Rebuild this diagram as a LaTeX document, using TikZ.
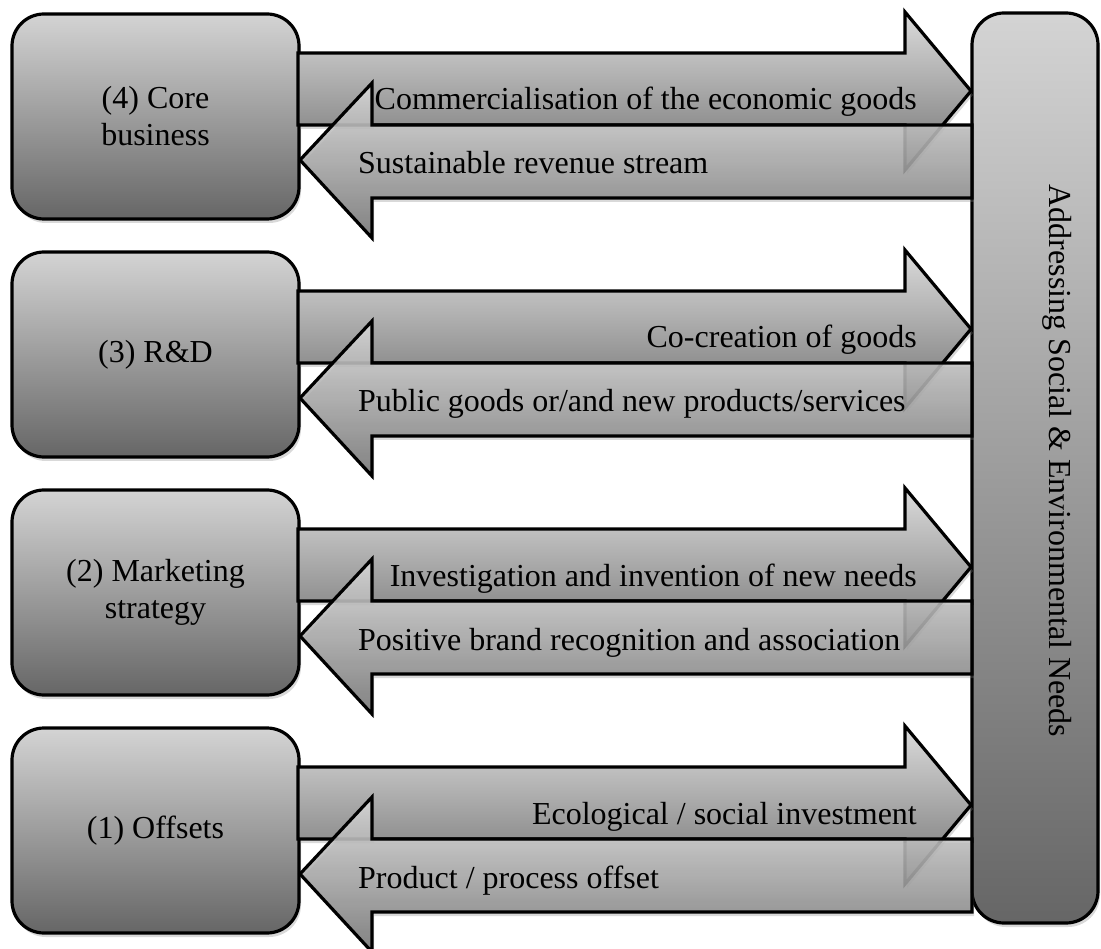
\documentclass[tikz,border=0pt]{standalone}
\usepackage{fontspec}
\setmainfont{Liberation Serif}
\usetikzlibrary{shadows}
\definecolor{boxtop}{gray}{0.83}
\definecolor{boxbottom}{gray}{0.40}
\definecolor{arrowtop}{gray}{0.86}
\definecolor{arrowbottom}{gray}{0.45}
\tikzset{
  % Two box styles: the stages on the left, the needs on the right
  stage box/.style={rectangle,draw,line width=3.2pt,rounded corners=32pt,
    minimum width=287pt,minimum height=205pt,align=center,
    top color=boxtop,bottom color=boxbottom,
    drop shadow={shadow xshift=2pt,shadow yshift=-4pt,opacity=0.3}},
  needs box/.style={stage box,minimum width=126pt,minimum height=910pt},
  % Two block arrows: towards the needs and back to the stage
  out arrow/.style={draw,line width=3.2pt,line join=miter,
    top color=arrowtop,bottom color=arrowbottom,
    drop shadow={shadow xshift=2pt,shadow yshift=-4pt,opacity=0.3}},
  back arrow/.style={out arrow,fill opacity=0.85},
  out text/.style={anchor=base east,inner sep=0pt},
  back text/.style={anchor=base west,inner sep=0pt}
}
\newcommand\stagerow[5]{
  \begin{scope}[shift={(0,#1)}]
    \node[stage box] (#2) at (155.5,116.5) {#3};
    \draw[out arrow] (298,53) -- (905,53) -- (905,12) -- (971,91)
      -- (905,170) -- (905,125) -- (298,125) -- cycle;
    \node[out text] (#2-out) at (917,110) {#4};
    \draw[back arrow] (972,125) -- (372,125) -- (372,83) -- (300,160)
      -- (372,238) -- (372,198) -- (972,198) -- cycle;
    \node[back text] (#2-back) at (358,174) {#5};
  \end{scope}
}

\begin{document}
\begin{tikzpicture}
[x=1pt,y=-1pt,
every node/.style={font=\fontsize{32}{37}\selectfont}]
\useasboundingbox (0,0) rectangle (1101,949);
\node[needs box] (needs) at (1035,468) {};
\node[rotate=-90,anchor=base] (needs text) at (1049,461)
  {Addressing Social \& Environmental Needs};
\stagerow{0}{core}{(4) Core\\business}
  {Commercialisation of the economic goods}{Sustainable revenue stream}
\stagerow{238}{rnd}{(3) R\&D}
  {Co-creation of goods}{Public goods or/and new products/services}
\stagerow{476}{marketing}{(2) Marketing\\strategy}
  {Investigation and invention of new needs}{Positive brand recognition and association}
\stagerow{714}{offsets}{(1) Offsets}
  {Ecological / social investment}{Product / process offset}
\end{tikzpicture}
\end{document}
